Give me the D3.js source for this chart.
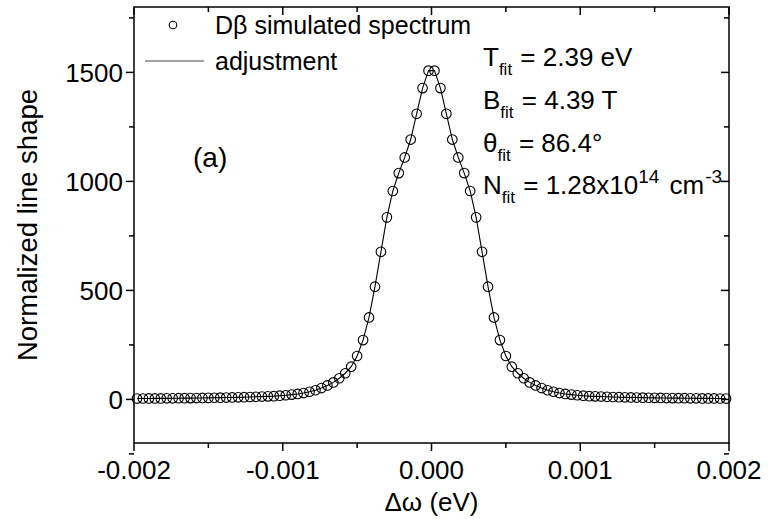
<!DOCTYPE html>
<html>
<head>
<meta charset="utf-8">
<script src="https://cdn.jsdelivr.net/npm/d3@7"></script>
<style>
  body { margin: 0; background: #fff; }
  svg { display: block; font-family: "Liberation Sans", Arial, sans-serif; }
</style>
</head>
<body>
<script>
// simulated D-beta line shape (x in eV)
var dw = [
  -0.00198, -0.00194, -0.00190, -0.00186, -0.00182, -0.00178, -0.00174, -0.00170, -0.00166, -0.00162,
  -0.00158, -0.00154, -0.00150, -0.00146, -0.00142, -0.00138, -0.00134, -0.00130, -0.00126, -0.00122,
  -0.00118, -0.00114, -0.00110, -0.00106, -0.00102, -0.00098, -0.00094, -0.00090, -0.00086, -0.00082,
  -0.00078, -0.00074, -0.00070, -0.00066, -0.00062, -0.00058, -0.00054, -0.00050, -0.00046, -0.00042,
  -0.00038, -0.00034, -0.00030, -0.00026, -0.00022, -0.00018, -0.00014, -0.00010, -0.00006, -0.00002,
  0.00002, 0.00006, 0.00010, 0.00014, 0.00018, 0.00022, 0.00026, 0.00030, 0.00034, 0.00038,
  0.00042, 0.00046, 0.00050, 0.00054, 0.00058, 0.00062, 0.00066, 0.00070, 0.00074, 0.00078,
  0.00082, 0.00086, 0.00090, 0.00094, 0.00098, 0.00102, 0.00106, 0.00110, 0.00114, 0.00118,
  0.00122, 0.00126, 0.00130, 0.00134, 0.00138, 0.00142, 0.00146, 0.00150, 0.00154, 0.00158,
  0.00162, 0.00166, 0.00170, 0.00174, 0.00178, 0.00182, 0.00186, 0.00190, 0.00194, 0.00198
];
var shape = [
  4, 4.1, 4.3, 4.5, 4.7, 4.9, 5.1, 5.4, 5.7, 6,
  6.3, 6.6, 7, 7.5, 8, 8.5, 9, 9.5, 10, 11,
  12, 13, 14, 15, 17, 19, 22, 25, 29, 35,
  42, 52, 64, 78, 97, 120, 150, 199, 272, 376,
  517, 677, 835, 956, 1038, 1110, 1192, 1310, 1428, 1508,
  1508, 1428, 1310, 1192, 1110, 1038, 956, 835, 677, 517,
  376, 272, 199, 150, 120, 97, 78, 64, 52, 42,
  35, 29, 25, 22, 19, 17, 15, 14, 13, 12,
  11, 10, 9.5, 9, 8.5, 8, 7.5, 7, 6.6, 6.3,
  6, 5.7, 5.4, 5.1, 4.9, 4.7, 4.5, 4.3, 4.1, 4
];

var xMajor = [-0.002, -0.001, 0, 0.001, 0.002];
var xMinor = [-0.0015, -0.0005, 0.0005, 0.0015];
var yMajor = [0, 500, 1000, 1500];
var yMinor = [-250, 250, 750, 1250, 1750];

var width = 768, height = 519;
var pL = 134, pR = 729, pT = 7, pB = 443; // plot box

var x = d3.scaleLinear().domain([-0.002, 0.002]).range([pL, pR]);
var y = d3.scaleLinear().domain([-200, 1800]).range([pB, pT]);

var svg = d3.select("body").append("svg")
    .attr("width", width)
    .attr("height", height);

// ticks: outward on bottom/left, inward on top/right
function tickLines(vals, len, horiz) {
  var g = svg.append("g").attr("stroke", "#000").attr("stroke-width", 1.5);
  vals.forEach(function (v) {
    if (horiz) {
      g.append("line").attr("x1", x(v)).attr("x2", x(v)).attr("y1", pB).attr("y2", pB + len);
      g.append("line").attr("x1", x(v)).attr("x2", x(v)).attr("y1", pT).attr("y2", pT + len);
    } else {
      g.append("line").attr("y1", y(v)).attr("y2", y(v)).attr("x1", pL).attr("x2", pL - len);
      g.append("line").attr("y1", y(v)).attr("y2", y(v)).attr("x1", pR).attr("x2", pR - len);
    }
  });
}
tickLines(xMajor, 8, true);
tickLines(xMinor, 5, true);
tickLines(yMajor, 8, false);
tickLines(yMinor, 5, false);

// frame
svg.append("rect")
    .attr("x", pL).attr("y", pT)
    .attr("width", pR - pL).attr("height", pB - pT)
    .attr("fill", "none").attr("stroke", "#000").attr("stroke-width", 1.5);

// tick labels
svg.append("g").selectAll("text")
    .data(xMajor)
    .join("text")
    .attr("x", d => x(d))
    .attr("y", 479)
    .attr("text-anchor", "middle")
    .attr("font-size", 26)
    .text(d => d.toFixed(3));

svg.append("g").selectAll("text")
    .data(yMajor)
    .join("text")
    .attr("x", 123)
    .attr("y", d => y(d))
    .attr("dy", "0.36em")
    .attr("text-anchor", "end")
    .attr("font-size", 26)
    .text(d => d);

// axis titles
svg.append("text")
    .attr("x", x(0)).attr("y", 511)
    .attr("text-anchor", "middle")
    .attr("font-size", 26)
    .text("\u0394\u03c9 (eV)");

svg.append("text")
    .attr("transform", `translate(37,${(pT + pB) / 2}) rotate(-90)`)
    .attr("text-anchor", "middle")
    .attr("font-size", 27.5)
    .text("Normalized line shape");

// fitted curve and simulated points
var line = d3.line()
    .x((d, i) => x(dw[i]))
    .y(d => y(d));

svg.append("path")
    .attr("d", line(shape))
    .attr("fill", "none")
    .attr("stroke", "#000")
    .attr("stroke-width", 1.1);

svg.append("g").selectAll("circle")
    .data(shape)
    .join("circle")
    .attr("cx", (d, i) => x(dw[i]))
    .attr("cy", d => y(d))
    .attr("r", 4.8)
    .attr("fill", "none")
    .attr("stroke", "#000")
    .attr("stroke-width", 1.1);

// legend
svg.append("circle")
    .attr("cx", 173).attr("cy", 25).attr("r", 3.8)
    .attr("fill", "none").attr("stroke", "#000").attr("stroke-width", 1.1);
svg.append("text")
    .attr("x", 215).attr("y", 34)
    .attr("font-size", 25)
    .text("D\u03b2 simulated spectrum");
svg.append("line")
    .attr("x1", 145).attr("x2", 204).attr("y1", 61).attr("y2", 61)
    .attr("stroke", "#444").attr("stroke-width", 1.1);
svg.append("text")
    .attr("x", 215).attr("y", 70)
    .attr("font-size", 25)
    .text("adjustment");

// panel label
svg.append("text")
    .attr("x", 193).attr("y", 167)
    .attr("font-size", 28)
    .text("(a)");

// fit results
var fitLines = [
  { main: "T", rest: " = 2.39 eV", y: 66 },
  { main: "B", rest: " = 4.39 T", y: 109 },
  { main: "\u03b8", rest: " = 86.4\u00b0", y: 152 },
  { main: "N", rest: " = 1.28x10", y: 194, sup1: "14", rest2: " cm", sup2: "-3" }
];

fitLines.forEach(function (f) {
  var t = svg.append("text")
      .attr("x", 483).attr("y", f.y)
      .attr("font-size", 26);
  t.append("tspan").text(f.main);
  t.append("tspan").attr("font-size", 17).attr("dy", 9).text("fit");
  t.append("tspan").attr("dy", -9).attr("dx", 1).text(f.rest);
  if (f.sup1) {
    t.append("tspan").attr("font-size", 19).attr("dy", -11).text(f.sup1);
    t.append("tspan").attr("dy", 11).attr("dx", 3).text(f.rest2);
    t.append("tspan").attr("font-size", 19).attr("dy", -11).attr("dx", 1).text(f.sup2);
  }
});
</script>
</body>
</html>
